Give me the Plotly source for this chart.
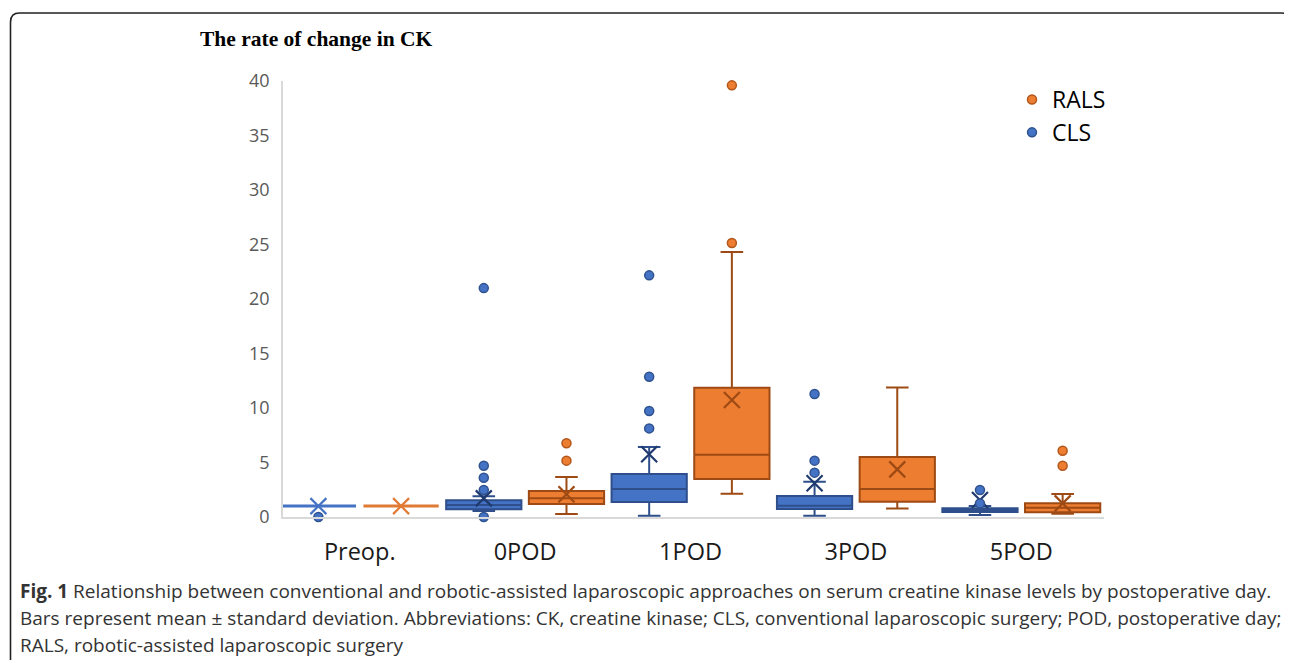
import plotly.graph_objects as go

# ---------------- data ----------------
categories = ["Preop.", "0POD", "1POD", "3POD", "5POD"]

cls_q1 = [1.0, 0.72, 1.38, 0.73, 0.45]
cls_median = [1.0, 1.10, 2.57, 1.04, 0.62]
cls_q3 = [1.0, 1.53, 3.94, 1.93, 0.80]
cls_low = [1.0, 0.55, 0.12, 0.12, 0.18]
cls_high = [1.0, 1.90, 6.42, 3.24, 1.00]
cls_mean = [1.0, 1.71, 5.75, 3.09, 1.56]
cls_outliers = [[0.0], [0.0, 2.48, 3.60, 4.70, 21.0], [8.13, 9.72, 12.87, 22.17],
                [4.07, 5.17, 11.28], [1.25, 2.48]]

rals_q1 = [1.0, 1.19, 3.49, 1.41, 0.43]
rals_median = [1.0, 1.71, 5.72, 2.57, 0.86]
rals_q3 = [1.0, 2.39, 11.86, 5.50, 1.26]
rals_low = [1.0, 0.28, 2.14, 0.77, 0.30]
rals_high = [1.0, 3.67, 24.31, 11.87, 2.11]
rals_mean = [1.0, 2.08, 10.73, 4.37, 1.25]
rals_outliers = [[], [5.17, 6.76], [25.14, 39.6], [], [4.70, 6.08]]

y_ticks = [0, 5, 10, 15, 20, 25, 30, 35, 40]

title_text = "The rate of change in CK"
caption_lines = [
    "<b>Fig. 1</b> Relationship between conventional and robotic-assisted laparoscopic approaches on serum creatine kinase levels by postoperative day.",
    "Bars represent mean ± standard deviation. Abbreviations: CK, creatine kinase; CLS, conventional laparoscopic surgery; POD, postoperative day;",
    "RALS, robotic-assisted laparoscopic surgery",
]

# ---------------- layout geometry (page pixels; page body has an 8px margin) ----------------
OFF = 8
FIG_W, FIG_H = 1292 - OFF, 660 - OFF
PL, PR, PT, PB = 283, 1104, 81, 517          # plot area in page pixels
L, R, T, B = PL - OFF, PR - OFF, PT - OFF, PB - OFF
W, H = R - L, B - T


def px_x(p):
    return (p - OFF - L) / W


def px_y(p):
    return (B - (p - OFF)) / H


series = [
    dict(name="CLS", offset=-0.25, fill="#4472C4", line="#2F4F8C", mean_c="#1F3A6E",
         flat="#4472C4", q1=cls_q1, med=cls_median, q3=cls_q3, lo=cls_low, hi=cls_high,
         mean=cls_mean, out=cls_outliers, edge="#2F528F"),
    dict(name="RALS", offset=0.25, fill="#ED7D31", line="#9E4A14", mean_c="#9E4A14",
         flat="#E07A35", q1=rals_q1, med=rals_median, q3=rals_q3, lo=rals_low, hi=rals_high,
         mean=rals_mean, out=rals_outliers, edge="#B2561B"),
]

BOX_W = 0.455

fig = go.Figure()

for s in series:
    for i, cat in enumerate(categories):
        flat = s["q1"][i] == s["q3"][i]
        fig.add_trace(go.Box(
            x=[i + s["offset"]],
            q1=[s["q1"][i]], median=[s["med"][i]], q3=[s["q3"][i]],
            lowerfence=[s["lo"][i]], upperfence=[s["hi"][i]],
            width=BOX_W, whiskerwidth=0.3, boxpoints=False,
            fillcolor=s["fill"],
            line=dict(color=s["flat"] if flat else s["line"], width=3 if flat else 2),
            showlegend=False, hoverinfo="skip", name=s["name"],
        ))

# mean markers
for s in series:
    xs = [i + s["offset"] for i in range(len(categories))]
    cols = [s["flat"] if s["q1"][i] == s["q3"][i] else s["mean_c"] for i in range(len(categories))]
    fig.add_trace(go.Scatter(
        x=xs, y=s["mean"], mode="markers", showlegend=False, hoverinfo="skip",
        marker=dict(symbol="x-thin", size=16, line=dict(color=cols, width=2.2)),
        cliponaxis=False,
    ))

# outliers (also used as legend entries; RALS listed first)
for rank, s in zip([2, 1], series):
    xs, ys = [], []
    for i, vals in enumerate(s["out"]):
        for v in vals:
            xs.append(i + s["offset"])
            ys.append(v)
    fig.add_trace(go.Scatter(
        x=xs, y=ys, mode="markers", name=s["name"], legendrank=rank,
        marker=dict(symbol="circle", size=9, color=s["fill"], line=dict(color=s["edge"], width=1.5)),
        cliponaxis=False,
    ))

# outer rounded frame
rad = 9
lx, ty, rx, by = 10.5, 13, 1290.5, 680
path = (f"M {px_x(lx)},{px_y(by)} L {px_x(lx)},{px_y(ty + rad)} "
        f"Q {px_x(lx)},{px_y(ty)} {px_x(lx + rad)},{px_y(ty)} "
        f"L {px_x(rx - rad)},{px_y(ty)} Q {px_x(rx)},{px_y(ty)} {px_x(rx)},{px_y(ty + rad)} "
        f"L {px_x(rx)},{px_y(by)}")
fig.add_shape(type="path", xref="paper", yref="paper", path=path,
              line=dict(color="#222222", width=1.6), layer="above")

# caption
for k, line in enumerate(caption_lines):
    fig.add_annotation(
        xref="paper", yref="paper", x=px_x(18), y=px_y(591 + 27 * k),
        xanchor="left", yanchor="middle", showarrow=False, text=line,
        font=dict(family="Open Sans", size=19, color="#333333"),
    )

fig.update_layout(
    width=FIG_W, height=FIG_H,
    margin=dict(l=L, r=FIG_W - R, t=T, b=FIG_H - B, autoexpand=False),
    paper_bgcolor="white", plot_bgcolor="white",
    title=dict(text=f"<b>{title_text}</b>", x=(200 - OFF) / FIG_W, xanchor="left",
               y=1 - (38 - OFF) / FIG_H, yanchor="middle", xref="container", yref="container",
               font=dict(family="Liberation Serif", size=21.5, color="#000000")),
    showlegend=True,
    legend=dict(x=px_x(1012), y=px_y(78), xanchor="left", yanchor="top",
                font=dict(family="Open Sans", size=23, color="#000000"),
                bgcolor="rgba(0,0,0,0)", itemsizing="trace", tracegroupgap=2),
    xaxis=dict(range=[-0.464, 4.5], tickmode="array", tickvals=list(range(len(categories))),
               ticktext=categories, showgrid=False, zeroline=False,
               showline=True, linecolor="#D9D9D9", linewidth=2, ticks="",
               tickfont=dict(family="Open Sans", size=23.5, color="#1a1a1a"),
               ticklabelstandoff=13),
    yaxis=dict(range=[0, 40], tickmode="array", tickvals=y_ticks, showgrid=False,
               zeroline=False, showline=True, linecolor="#D9D9D9", linewidth=1.5, ticks="",
               tickfont=dict(family="Open Sans", size=18, color="#595959"),
               ticklabelstandoff=8),
    boxgap=0, boxgroupgap=0,
)

fig.write_html("out.html")
